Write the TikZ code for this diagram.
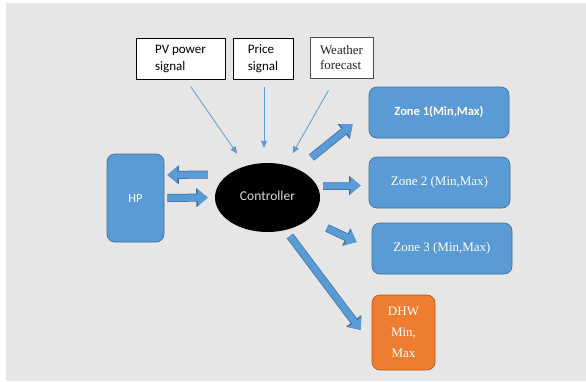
\documentclass[tikz,border=0pt]{standalone}
\usepackage{fontspec}
\setmainfont{Liberation Serif}
\newfontfamily\calib{Carlito}
\usetikzlibrary{arrows.meta,shapes.geometric}
\definecolor{bgGray}{RGB}{230,230,230}
\definecolor{zoneB}{RGB}{91,155,213}
\definecolor{zoneE}{RGB}{65,113,156}
\definecolor{dhwO}{RGB}{237,125,49}
\definecolor{dhwE}{RGB}{174,90,33}

\begin{document}
\begin{tikzpicture}[x=1pt,y=-1pt,
  src/.style={draw,fill=white,line width=0.8pt,align=left,inner sep=0pt,
    font={\calib\fontsize{13}{17}\selectfont}},
  zone/.style={draw=zoneE,fill=zoneB,rounded corners=8pt,line width=0.7pt,
    text=white,align=center,inner sep=0pt},
  sig/.style={zoneB,line width=0.8pt,-{Triangle[length=7pt,width=6pt]}},
  fat/.style={zoneB,line width=6.5pt,-{Triangle[length=10pt,width=16pt]},
    preaction={draw=zoneE,line width=8pt,-{Triangle[length=11.5pt,width=18.5pt]}}}]
\useasboundingbox (0,0) rectangle (586,381);
\fill[bgGray] (6,3) rectangle (586,381);
% signals on top
\node[src,minimum width=89,minimum height=41] (pv) at (180.5,58.5) {PV power\\signal};
\node[src,minimum width=60,minimum height=41] (price) at (263,58.5) {Price\\signal};
\node[src,draw=black!70,minimum width=63,minimum height=41,text=black!85,
  font={\fontsize{13}{15}\selectfont}] (wx) at (341.5,57.5) {Weather\\forecast};
% heat pump and controller
\node[zone,minimum width=57,minimum height=88,font={\calib\fontsize{12.5}{14}\selectfont}] (hp) at (135.5,198) {HP};
\node[ellipse,fill=black,minimum width=105,minimum height=69,text=black!15,
  font={\calib\fontsize{13.5}{15}\selectfont}] (ctrl) at (267.5,197.5) {\raisebox{4pt}{Controller}};
% zones
\node[zone,minimum width=140,minimum height=51,font={\calib\bfseries\fontsize{12.5}{14}\selectfont}] (z1) at (439,112.5) {\raisebox{3pt}{Zone 1(Min,Max)}};
\node[zone,minimum width=141,minimum height=51,font={\fontsize{13}{15}\selectfont}] (z2) at (439.5,182.5) {Zone 2 (Min,Max)};
\node[zone,minimum width=140,minimum height=51,font={\fontsize{13}{15}\selectfont}] (z3) at (442,248.5) {Zone 3 (Min,Max)};
\node[zone,draw=dhwE,fill=dhwO,minimum width=63,minimum height=75,
  font={\fontsize{13}{21}\selectfont}] (dhw) at (403.5,332.5) {DHW\\Min,\\Max};
% thin arrows into the controller
\draw[sig,shorten >=15pt] ([shift={(10,7)}]pv.south) -- (ctrl);
\draw[sig] ([shift={(1,8)}]price.south) -- ([shift={(-3.5,-15)}]ctrl.north);
\draw[sig,shorten >=13.5pt] ([shift={(-13,12)}]wx.south) -- (ctrl);
% block arrows
\draw[fat] ([shift={(-7,-23)}]ctrl.west) -- ([shift={(3,-23)}]hp.east);
\draw[fat] ([xshift=3]hp.east) -- ([xshift=-7]ctrl.west);
\draw[fat] ([shift={(44,-40)}]ctrl.center) -- ([shift={(-16,-14)}]z1.south west);
\draw[fat] ([shift={(3,-12)}]ctrl.east) -- ([shift={(-8,3)}]z2.west);
\draw[fat] ([shift={(59.5,30.5)}]ctrl.center) -- ([shift={(-15,-6.5)}]z3.west);
\draw[fat] ([shift={(22.5,38.5)}]ctrl.center) -- ([shift={(-11,-2.5)}]dhw.west);
\end{tikzpicture}
\end{document}
